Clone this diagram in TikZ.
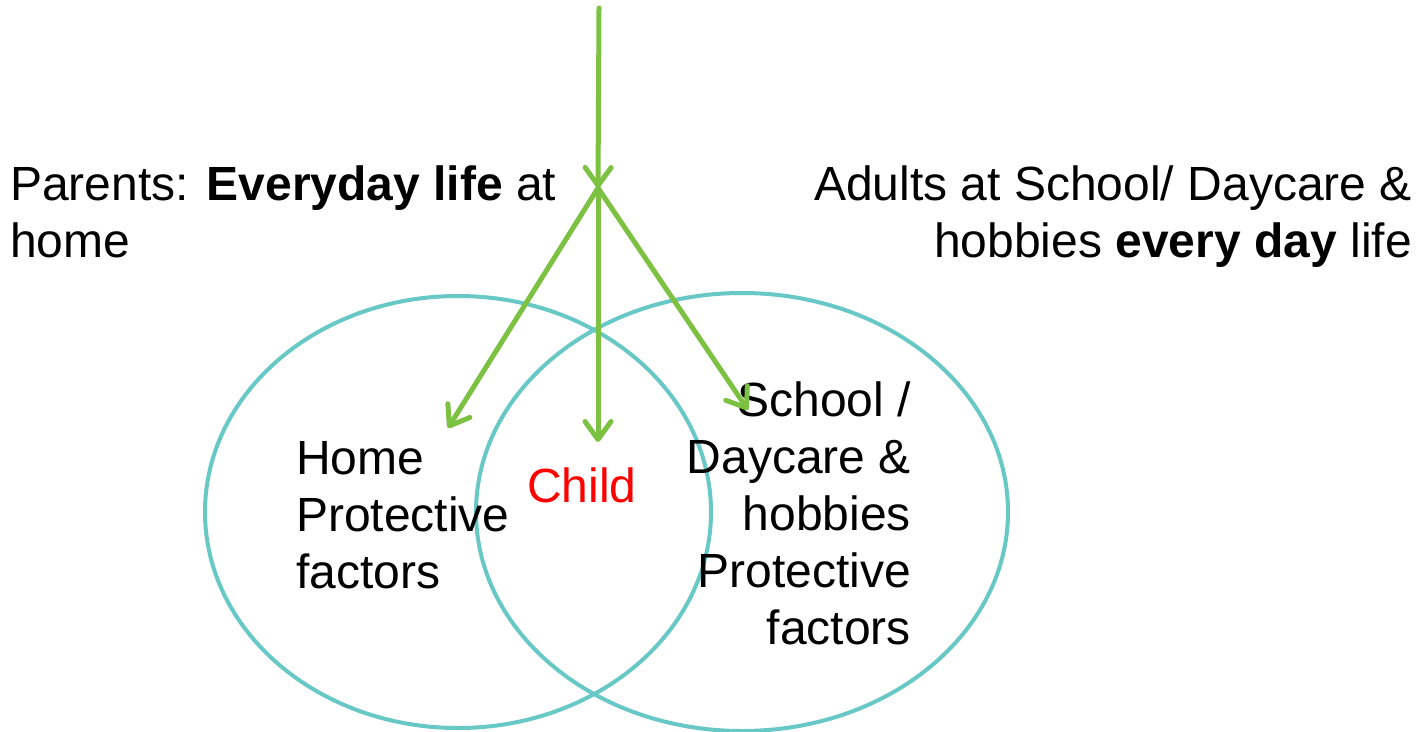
\documentclass[tikz,border=0pt]{standalone}
\usepackage{fontspec}
\setmainfont{Liberation Sans}
\usetikzlibrary{arrows.meta}
\definecolor{arrgreen}{RGB}{124,193,66}
\definecolor{venncyan}{RGB}{104,200,198}
\tikzset{
  venn/.style={draw=venncyan, line width=4bp},
  flow/.style={draw=arrgreen, line width=5bp, line cap=round,
    -{Straight Barb[length=18bp,width=26bp,round]}},
  label/.style={inner sep=0pt, font=\fontsize{48bp}{57bp}\selectfont},
}
\newcommand{\firststrut}{\rule{0pt}{36bp}}
\begin{document}
\begin{tikzpicture}[x=1bp,y=-1bp]
\useasboundingbox (0,0) rectangle (1426,731);
% Venn circles
\draw[venn] (458,512) ellipse [x radius=253bp, y radius=216bp];
\draw[venn] (742,512) ellipse [x radius=266bp, y radius=219bp];
% texts
\node[label, align=left, anchor=north west] (parents) at (10,164)
  {\firststrut Parents: \textbf{Everyday life} at\\home};
\node[label, align=right, anchor=north east] (adults) at (1412,164)
  {\firststrut Adults at School/ Daycare \&\\hobbies \textbf{every day} life};
\node[label, align=left, anchor=north west] (home) at (296,438)
  {\firststrut Home\\Protective\\factors};
\node[label, text=red, anchor=base west] (child) at (527,502) {Child};
\node[label, align=right, anchor=north east] (school) at (911,380)
  {\firststrut School /\\Daycare \&\\hobbies\\Protective\\factors};
% arrows
\coordinate (top) at (599,8);
\coordinate (hub) at (598,188);
\coordinate (tipL) at (448,428);
\coordinate (tipM) at (598,442);
\coordinate (tipR) at (748,410);
\draw[flow] (top) -- (hub);
\draw[flow] (hub) -- (tipL);
\draw[flow] (hub) -- (tipM);
\draw[flow] (hub) -- (tipR);
\end{tikzpicture}
\end{document}
